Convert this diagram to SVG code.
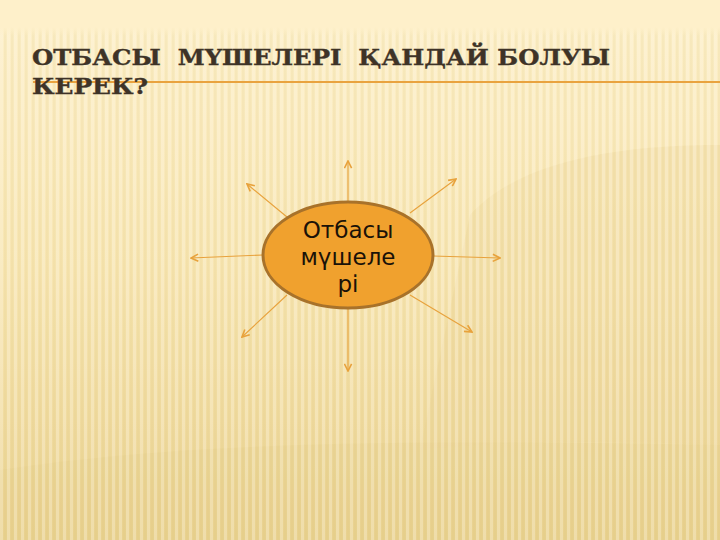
<svg xmlns="http://www.w3.org/2000/svg" width="720" height="540" viewBox="0 0 720 540">
<defs>
<linearGradient id="bg" x1="0" y1="0" x2="0" y2="1">
<stop offset="0" stop-color="#FDF0CB"/>
<stop offset="0.5" stop-color="#F7E5B2"/>
<stop offset="1" stop-color="#EAD392"/>
</linearGradient>
<linearGradient id="topfade" x1="0" y1="0" x2="0" y2="1">
<stop offset="0.75" stop-color="#FEF0CA" stop-opacity="1"/>
<stop offset="1" stop-color="#FEF0CA" stop-opacity="0"/>
</linearGradient>
<pattern id="stripes" width="7" height="540" patternUnits="userSpaceOnUse">
<rect x="0" y="0" width="3" height="540" fill="#FFFBEA" opacity="0.3"/>
<rect x="4" y="0" width="2.5" height="540" fill="#D8BC6A" opacity="0.12"/>
</pattern>
<marker id="arr" viewBox="0 0 10 10" refX="9" refY="5" markerWidth="9" markerHeight="9" orient="auto" markerUnits="userSpaceOnUse">
<path d="M1,1 L9,5 L1,9" fill="none" stroke="#E8A23C" stroke-width="1.8"/>
</marker>
<style>
.title{font-family:"DejaVu Serif","Liberation Serif",serif;font-weight:bold;font-size:23px;fill:#3E3327;stroke:#3E3327;stroke-width:0.4;white-space:pre}
.node{font-family:"DejaVu Sans","Noto Sans",sans-serif;font-size:23px;fill:#1A1208}
.conn line{stroke:#E8A23C;stroke-width:1.1;marker-end:url(#arr)}
</style>
</defs>
<rect width="720" height="540" fill="url(#bg)"/>
<path d="M0,470 C200,440 420,440 720,445 L720,540 L0,540 Z" fill="#E6CE8A" opacity="0.3"/>
<path d="M470,215 C520,160 620,145 720,145 L720,445 C600,440 500,440 420,450 Z" fill="#EAD597" opacity="0.3"/>
<rect x="0" y="0" width="720" height="540" fill="url(#stripes)"/>
<rect x="0" y="0" width="720" height="36" fill="url(#topfade)"/>
<line x1="33" y1="82" x2="720" y2="82" stroke="#E9A33F" stroke-width="2"/>
<g id="title">
<text class="title" xml:space="preserve" x="32" y="65" textLength="578" lengthAdjust="spacingAndGlyphs">ОТБАСЫ  МҮШЕЛЕРІ  ҚАНДАЙ БОЛУЫ</text>
<text class="title" x="32" y="94" textLength="116" lengthAdjust="spacingAndGlyphs">КЕРЕК?</text>
</g>
<g id="connectors" class="conn">
<line x1="348" y1="202" x2="348" y2="161"/>
<line x1="410" y1="213" x2="456" y2="179"/>
<line x1="433" y1="256" x2="500" y2="258"/>
<line x1="410" y1="295" x2="472" y2="332"/>
<line x1="348" y1="308" x2="348" y2="371"/>
<line x1="287" y1="295" x2="242" y2="337"/>
<line x1="263" y1="255" x2="191" y2="258"/>
<line x1="287" y1="217" x2="247" y2="184"/>
</g>
<g id="node-center">
<ellipse cx="348" cy="255" rx="85" ry="53" fill="#F0A12E" stroke="#A8722A" stroke-width="3"/>
<text class="node" x="348" y="238" text-anchor="middle">Отбасы</text>
<text class="node" x="348" y="265" text-anchor="middle">мүшеле</text>
<text class="node" x="348" y="292" text-anchor="middle">рі</text>
</g>
</svg>
